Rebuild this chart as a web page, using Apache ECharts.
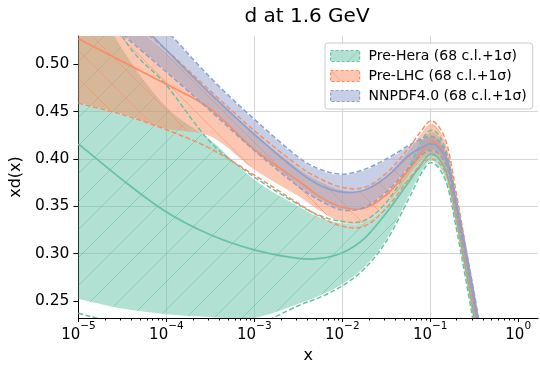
<!DOCTYPE html>
<html><head><meta charset="utf-8">
<script src="https://cdn.jsdelivr.net/npm/echarts@6/dist/echarts.min.js"></script>
<style>html,body{margin:0;padding:0;background:#fff}#c{width:540px;height:370px}</style>
</head><body><div id="c"></div>
<script>
// x grid (log-spaced)
const xValues = [1e-5, 3.162e-5, 1e-4, 3.162e-4, 1e-3, 3.162e-3, 5.623e-3, 1e-2, 1.778e-2, 3.162e-2, 5.623e-2, 7.943e-2, 0.1, 0.1259, 0.1585, 0.1995, 0.2512, 0.3162, 0.3981];

// Pre-Hera
const preHeraCentral = [0.416, 0.378, 0.344, 0.320, 0.304, 0.295, 0.295, 0.301, 0.316, 0.343, 0.375, 0.395, 0.405, 0.400, 0.381, 0.336, 0.286, 0.233, 0.176];
const preHeraLo68   = [0.252, 0.242, 0.236, 0.233, 0.232, 0.247, 0.256, 0.268, 0.286, 0.315, 0.360, 0.387, 0.398, 0.392, 0.372, 0.327, 0.277, 0.224, 0.168];
const preHeraHi68   = [0.600, 0.516, 0.455, 0.420, 0.378, 0.350, 0.338, 0.332, 0.333, 0.352, 0.388, 0.417, 0.428, 0.423, 0.400, 0.350, 0.297, 0.243, 0.186];
const preHeraLo1s   = [0.237, 0.225, 0.216, 0.214, 0.224, 0.245, 0.254, 0.266, 0.284, 0.313, 0.357, 0.385, 0.396, 0.390, 0.370, 0.325, 0.275, 0.222, 0.166];
const preHeraHi1s   = [0.640, 0.530, 0.478, 0.418, 0.381, 0.352, 0.340, 0.334, 0.335, 0.354, 0.390, 0.419, 0.430, 0.425, 0.402, 0.352, 0.299, 0.245, 0.188];

// Pre-LHC
const preLhcCentral = [0.527, 0.503, 0.479, 0.453, 0.410, 0.377, 0.360, 0.349, 0.348, 0.362, 0.388, 0.407, 0.418, 0.414, 0.396, 0.350, 0.300, 0.248, 0.193];
const preLhcLo68    = [0.460, 0.448, 0.432, 0.424, 0.389, 0.361, 0.345, 0.333, 0.333, 0.352, 0.382, 0.399, 0.404, 0.399, 0.382, 0.339, 0.290, 0.239, 0.184];
const preLhcHi68    = [0.585, 0.550, 0.512, 0.468, 0.427, 0.390, 0.376, 0.367, 0.367, 0.382, 0.408, 0.427, 0.437, 0.431, 0.409, 0.359, 0.306, 0.253, 0.198];
const preLhcLo1s    = [0.459, 0.447, 0.431, 0.411, 0.383, 0.353, 0.339, 0.329, 0.329, 0.348, 0.378, 0.395, 0.400, 0.396, 0.379, 0.336, 0.287, 0.236, 0.181];
const preLhcHi1s    = [0.590, 0.553, 0.515, 0.472, 0.430, 0.393, 0.379, 0.370, 0.370, 0.385, 0.411, 0.430, 0.440, 0.434, 0.412, 0.362, 0.309, 0.256, 0.201];

// NNPDF4.0
const nnpdfCentral  = [0.605, 0.562, 0.515, 0.469, 0.426, 0.387, 0.372, 0.365, 0.367, 0.381, 0.403, 0.412, 0.416, 0.412, 0.394, 0.350, 0.302, 0.252, 0.197];
const nnpdfLo68     = [0.575, 0.533, 0.493, 0.452, 0.410, 0.372, 0.357, 0.347, 0.350, 0.366, 0.391, 0.405, 0.410, 0.406, 0.389, 0.345, 0.297, 0.247, 0.192];
const nnpdfHi68     = [0.635, 0.580, 0.535, 0.485, 0.441, 0.401, 0.388, 0.383, 0.388, 0.399, 0.413, 0.420, 0.423, 0.418, 0.399, 0.355, 0.307, 0.257, 0.202];
const nnpdfLo1s     = [0.574, 0.532, 0.492, 0.451, 0.409, 0.371, 0.356, 0.346, 0.349, 0.365, 0.390, 0.404, 0.409, 0.405, 0.388, 0.344, 0.296, 0.246, 0.191];
const nnpdfHi1s     = [0.636, 0.581, 0.536, 0.486, 0.442, 0.402, 0.389, 0.384, 0.389, 0.400, 0.414, 0.421, 0.424, 0.419, 0.400, 0.356, 0.308, 0.258, 0.203];

// ticks
const xTicks = [1e-5, 1e-4, 1e-3, 1e-2, 1e-1, 1];
const xMinorTicks = [];
[1e-5, 1e-4, 1e-3, 1e-2, 1e-1].forEach(d => { for (let m = 2; m <= 9; m++) xMinorTicks.push(+(m * d).toPrecision(3)); });
const yTicks = [0.25, 0.30, 0.35, 0.40, 0.45, 0.50];

const X_MIN = 1e-5, X_MAX = 1.68, Y_MIN = 0.232, Y_MAX = 0.53;
const FONT = 'DejaVu Sans';
const GREEN = '#66c2a5', ORANGE = '#fc8d62', BLUE = '#8da0cb';

function makePattern(rgb, dir) {
  const s = 28;
  const c = document.createElement('canvas');
  c.width = s; c.height = s;
  const g = c.getContext('2d');
  g.fillStyle = 'rgba(' + rgb + ',0.5)';
  g.fillRect(0, 0, s, s);
  if (dir) {
    g.strokeStyle = 'rgba(' + rgb + ',0.55)';
    g.lineWidth = 1;
    g.beginPath();
    for (let k = -1; k <= 1; k++) {
      if (dir === '/') { g.moveTo(k * s, s); g.lineTo(k * s + s, 0); }
      else { g.moveTo(k * s, 0); g.lineTo(k * s + s, s); }
    }
    g.stroke();
  }
  return { image: c, repeat: 'repeat' };
}

// cardinal spline through pixel points
const T = 0.17;
function splineSeg(p, start) {
  let d = start ? 'M' + p[0][0] + ' ' + p[0][1] : 'L' + p[0][0] + ' ' + p[0][1];
  for (let i = 0; i < p.length - 1; i++) {
    const p0 = p[Math.max(i - 1, 0)], p1 = p[i], p2 = p[i + 1], p3 = p[Math.min(i + 2, p.length - 1)];
    const c1x = p1[0] + (p2[0] - p0[0]) * T, c1y = p1[1] + (p2[1] - p0[1]) * T;
    const c2x = p2[0] - (p3[0] - p1[0]) * T, c2y = p2[1] - (p3[1] - p1[1]) * T;
    d += ' C' + c1x + ' ' + c1y + ' ' + c2x + ' ' + c2y + ' ' + p2[0] + ' ' + p2[1];
  }
  return d;
}
const pairs = arr => xValues.map((x, i) => [x, arr[i]]);

function band(name, lo, hi, color, pattern, z) {
  return {
    type: 'custom', name: name, data: pairs(hi), clip: true, silent: true, z: z,
    itemStyle: { color: color },
    encode: { x: 0, y: 1 },
    renderItem: function (params, api) {
      if (params.dataIndex !== 0) return null;
      const up = xValues.map((x, i) => api.coord([x, hi[i]]));
      const dn = xValues.map((x, i) => api.coord([x, lo[i]])).reverse();
      const d = splineSeg(up, true) + ' ' + splineSeg(dn, false) + ' Z';
      return { type: 'path', shape: { pathData: d }, style: { fill: pattern, stroke: null } };
    }
  };
}
function line(name, arr, color, dashed, z) {
  return {
    type: 'custom', name: name, data: pairs(arr), clip: true, silent: true, z: z,
    encode: { x: 0, y: 1 },
    renderItem: function (params, api) {
      if (params.dataIndex !== 0) return null;
      const pts = xValues.map((x, i) => api.coord([x, arr[i]]));
      return { type: 'path', shape: { pathData: splineSeg(pts, true) },
        style: { fill: 'none', stroke: color, lineWidth: dashed ? 1.5 : 1.7, lineDash: dashed ? [5, 2.5] : null } };
    }
  };
}

const N1 = 'Pre-Hera (68 c.l.+1σ)', N2 = 'Pre-LHC (68 c.l.+1σ)', N3 = 'NNPDF4.0 (68 c.l.+1σ)';
const pG = makePattern('102,194,165', '/');
const pO = makePattern('252,141,98', '\\');
const pB = makePattern('141,160,203', null);

const series = [
  band(N1, preHeraLo68, preHeraHi68, GREEN, pG, 2),
  band(N2, preLhcLo68, preLhcHi68, ORANGE, pO, 3),
  band(N3, nnpdfLo68, nnpdfHi68, BLUE, pB, 4),
  line('g c', preHeraCentral, GREEN, false, 5), line('g lo', preHeraLo1s, GREEN, true, 5), line('g hi', preHeraHi1s, GREEN, true, 5),
  line('o c', preLhcCentral, ORANGE, false, 6), line('o lo', preLhcLo1s, ORANGE, true, 6), line('o hi', preLhcHi1s, ORANGE, true, 6),
  line('b c', nnpdfCentral, BLUE, false, 7), line('b lo', nnpdfLo1s, BLUE, true, 7), line('b hi', nnpdfHi1s, BLUE, true, 7)
];

function expLabel(v) {
  const e = Math.round(Math.log10(v));
  return '{b|10}{s|' + (e < 0 ? '−' + (-e) : e) + '}';
}

const chart = echarts.init(document.getElementById('c'), null, { renderer: 'canvas' });
chart.setOption({
  animation: false,
  backgroundColor: '#fff',
  title: { text: 'd at 1.6 GeV', left: 307, textAlign: 'center', top: 7, padding: 0,
    textStyle: { fontFamily: FONT, fontSize: 20, fontWeight: 'normal', color: '#000' } },
  grid: { left: 76, right: 2, top: 36, bottom: 52, containLabel: false },
  legend: {
    orient: 'vertical', left: 325, top: 43, padding: [6, 6, 6, 5], itemGap: 6,
    itemWidth: 29, itemHeight: 11, icon: 'rect', selectedMode: false,
    backgroundColor: 'rgba(255,255,255,0.8)', borderColor: '#cccccc', borderWidth: 1, borderRadius: 3,
    textStyle: { fontFamily: FONT, fontSize: 14, color: '#000', padding: [0, 0, 0, 4] },
    data: [
      { name: N1, itemStyle: { color: pG, borderColor: GREEN, borderWidth: 1.2, borderType: [3, 2] } },
      { name: N2, itemStyle: { color: pO, borderColor: ORANGE, borderWidth: 1.2, borderType: [3, 2] } },
      { name: N3, itemStyle: { color: pB, borderColor: BLUE, borderWidth: 1.2, borderType: [3, 2] } }
    ]
  },
  xAxis: [
    { type: 'log', logBase: 10, min: X_MIN, max: X_MAX, name: 'x', nameLocation: 'middle', nameGap: 30,
      nameTextStyle: { fontFamily: FONT, fontSize: 16, color: '#000' },
      axisLine: { show: true, lineStyle: { color: '#000', width: 1 } },
      axisTick: { show: true, length: 4, lineStyle: { color: '#000' }, customValues: xTicks },
      axisLabel: { customValues: xTicks, margin: 3, formatter: expLabel,
        rich: { b: { fontFamily: FONT, fontSize: 15, color: '#000', lineHeight: 22, verticalAlign: 'bottom' },
                s: { fontFamily: FONT, fontSize: 10.5, color: '#000', lineHeight: 22, verticalAlign: 'top' } } },
      splitLine: { show: true, showMinLine: false, showMaxLine: false, lineStyle: { color: '#d6d6d6', width: 1 } }
    },
    { type: 'log', logBase: 10, min: X_MIN, max: X_MAX, position: 'bottom',
      axisLine: { show: false }, axisLabel: { show: false }, splitLine: { show: false },
      axisTick: { show: true, length: 2.5, lineStyle: { color: '#000' }, customValues: xMinorTicks }
    }
  ],
  yAxis: {
    type: 'value', min: Y_MIN, max: Y_MAX, name: 'xd(x)', nameLocation: 'middle', nameGap: 52,
    nameTextStyle: { fontFamily: FONT, fontSize: 16, color: '#000' },
    axisLine: { show: true, lineStyle: { color: '#000', width: 1 } },
    axisTick: { show: true, length: 5, lineStyle: { color: '#000' }, customValues: yTicks },
    axisLabel: { customValues: yTicks, margin: 9, fontFamily: FONT, fontSize: 15.5, color: '#000',
      formatter: v => v.toFixed(2) },
    splitLine: { show: true, showMinLine: false, showMaxLine: false, lineStyle: { color: '#d6d6d6', width: 1 } }
  },
  series: series
});
</script></body></html>
